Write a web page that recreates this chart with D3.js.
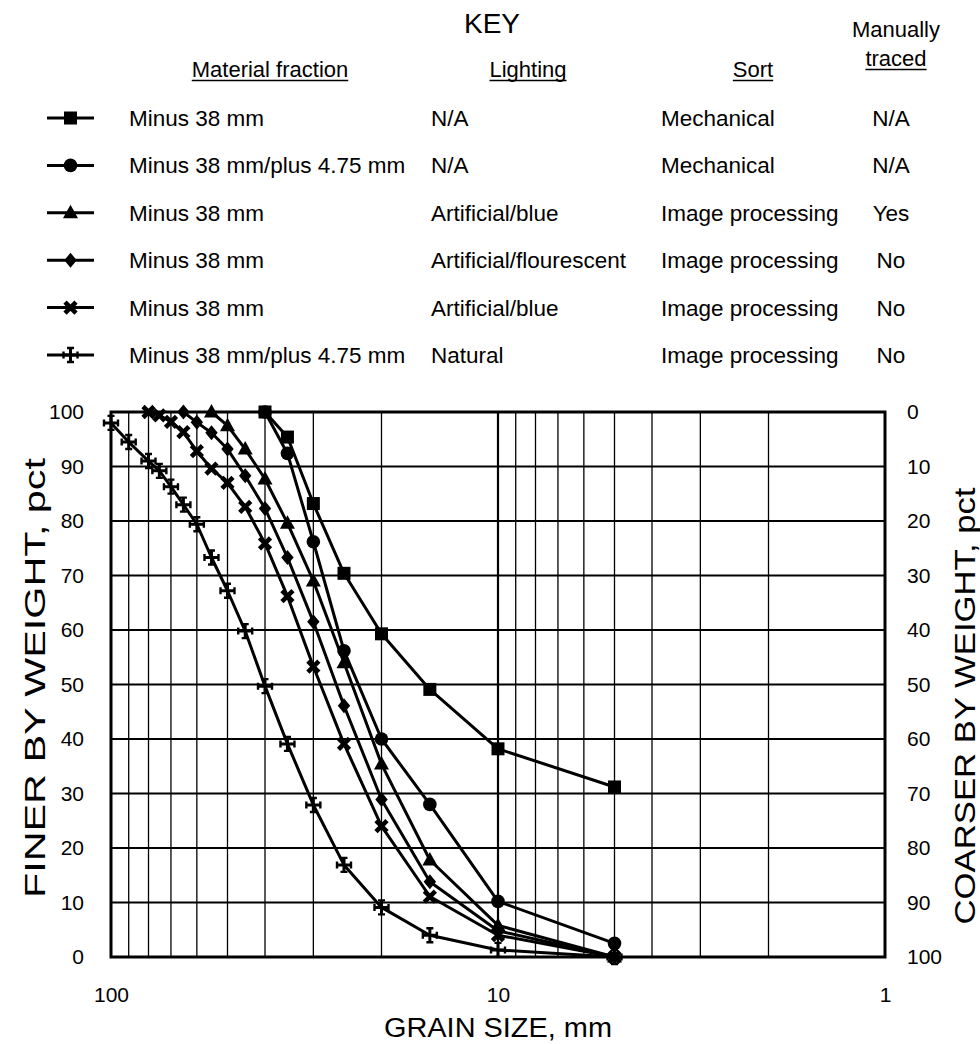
<!DOCTYPE html>
<html>
<head>
<meta charset="utf-8">
<script src="https://cdn.jsdelivr.net/npm/d3@7"></script>
<style>
html,body{margin:0;padding:0;background:#fff;}
svg{display:block;}
text{font-family:"Liberation Sans",Arial,Helvetica,sans-serif;fill:#000;}
</style>
</head>
<body>
<svg id="chart" width="980" height="1044"></svg>
<script>
// ---------- data ----------
const xTickLabels = [100, 10, 1];
const yTickValues = [0, 10, 20, 30, 40, 50, 60, 70, 80, 90, 100];
const gridSizes = [90, 80, 70, 60, 50, 40, 30, 20, 10, 9, 8, 7, 6, 5, 4, 3, 2];

const sizesSquare = [40, 35, 30, 25, 20, 15, 10, 5];
const valuesSquare = [100, 95.4, 83.2, 70.4, 59.3, 49.1, 38.2, 31.2];

const sizesCircle = [40, 35, 30, 25, 20, 15, 10, 5];
const valuesCircle = [100, 92.4, 76.2, 56.2, 40.0, 28.0, 10.2, 2.5];

const sizesTriangle = [55, 50, 45, 40, 35, 30, 25, 20, 15, 10, 5];
const valuesTriangle = [100, 97.5, 93.2, 87.7, 79.6, 69.0, 54.0, 35.4, 17.8, 5.8, 0];

const sizesDiamond = [65, 60, 55, 50, 45, 40, 35, 30, 25, 20, 15, 10, 5];
const valuesDiamond = [100, 98.1, 96.2, 93.2, 88.3, 82.3, 73.3, 61.5, 46.1, 28.9, 13.8, 4.8, 0];

const sizesCross = [80, 75, 70, 65, 60, 55, 50, 45, 40, 35, 30, 25, 20, 15, 10, 5];
const valuesCross = [100, 99.4, 98.2, 96.3, 92.8, 89.6, 87.0, 82.6, 75.9, 66.2, 53.3, 39.1, 24.0, 11.1, 4.0, 0];

const sizesStar = [100, 90, 80, 75, 70, 65, 60, 55, 50, 45, 40, 35, 30, 25, 20, 15, 10, 5];
const valuesStar = [98, 94.5, 91, 89.2, 86.3, 83, 79.4, 73.3, 67.2, 59.8, 49.7, 39.1, 27.9, 16.9, 9.1, 4.0, 1.3, 0];

const markerTypes = ["square", "circle", "triangle", "diamond", "cross", "star"];
const keyFraction = ["Minus 38 mm", "Minus 38 mm/plus 4.75 mm", "Minus 38 mm", "Minus 38 mm", "Minus 38 mm", "Minus 38 mm/plus 4.75 mm"];
const keyLighting = ["N/A", "N/A", "Artificial/blue", "Artificial/flourescent", "Artificial/blue", "Natural"];
const keySort = ["Mechanical", "Mechanical", "Image processing", "Image processing", "Image processing", "Image processing"];
const keyManual = ["N/A", "N/A", "Yes", "No", "No", "No"];
const keyHeaders = ["Material fraction", "Lighting", "Sort"];

const series = [
  {type: "star", sizes: sizesStar, values: valuesStar},
  {type: "cross", sizes: sizesCross, values: valuesCross},
  {type: "diamond", sizes: sizesDiamond, values: valuesDiamond},
  {type: "triangle", sizes: sizesTriangle, values: valuesTriangle},
  {type: "circle", sizes: sizesCircle, values: valuesCircle},
  {type: "square", sizes: sizesSquare, values: valuesSquare}
];

// ---------- layout ----------
const svg = d3.select("#chart");
const L = 111, R = 885, T = 412, B = 957;
const x = d3.scaleLog().domain([100, 1]).range([L, R]);
const y = d3.scaleLinear().domain([0, 100]).range([B, T]);

function drawMarker(g, type, cx, cy) {
  const m = g.append("g").attr("transform", `translate(${cx},${cy})`);
  if (type === "square") {
    m.append("path").attr("d", "M-6.5,-6.5h13v13h-13z").attr("fill", "#000");
  } else if (type === "circle") {
    m.append("circle").attr("r", 6.8).attr("fill", "#000");
  } else if (type === "triangle") {
    m.append("path").attr("d", "M0,-8L7.5,5.5L-7.5,5.5Z").attr("fill", "#000");
  } else if (type === "diamond") {
    m.append("path").attr("d", "M0,-7.5L6.2,0L0,7.5L-6.2,0Z").attr("fill", "#000");
  } else if (type === "cross") {
    m.append("path").attr("d", "M-5.5,-5.5L5.5,5.5M-5.5,5.5L5.5,-5.5")
      .attr("stroke", "#000").attr("stroke-width", 4.6).attr("fill", "none");
  } else if (type === "star") {
    m.append("path").attr("d", "M0,-7V7M-7,0H7")
      .attr("stroke", "#000").attr("stroke-width", 3).attr("fill", "none");
    m.append("path").attr("d", "M-3.5,-7H3.5M-3.5,7H3.5M-7,-3.5V3.5M7,-3.5V3.5")
      .attr("stroke", "#000").attr("stroke-width", 2.4).attr("fill", "none");
  }
}

// ---------- grid ----------
const grid = svg.append("g");
grid.selectAll("line.v").data(gridSizes).enter().append("line")
  .attr("x1", d => x(d)).attr("x2", d => x(d))
  .attr("y1", T).attr("y2", B)
  .attr("stroke", "#000").attr("stroke-width", d => d === 10 ? 2.2 : 1.3);
grid.selectAll("line.h").data(yTickValues.slice(1, -1)).enter().append("line")
  .attr("x1", L).attr("x2", R)
  .attr("y1", d => y(d)).attr("y2", d => y(d))
  .attr("stroke", "#000").attr("stroke-width", 2);
grid.append("rect").attr("x", L).attr("y", T).attr("width", R - L).attr("height", B - T)
  .attr("fill", "none").attr("stroke", "#000").attr("stroke-width", 3);

// ---------- axes ----------
const fmt = d3.format("d");
const axB = svg.append("g").attr("transform", `translate(0,${B})`)
  .call(d3.axisBottom(x).tickValues(xTickLabels).tickFormat(fmt).tickSize(0).tickPadding(30));
const axL = svg.append("g").attr("transform", `translate(${L},0)`)
  .call(d3.axisLeft(y).tickValues(yTickValues).tickFormat(fmt).tickSize(0).tickPadding(27));
const axR = svg.append("g").attr("transform", `translate(${R},0)`)
  .call(d3.axisRight(y).tickValues(yTickValues).tickFormat(d => fmt(100 - d)).tickSize(0).tickPadding(22));
[axB, axL, axR].forEach(a => {
  a.select(".domain").remove();
  a.selectAll("text").style("font-size", "21px").style("font-family", "\"Liberation Sans\",Arial,sans-serif").attr("fill", "#000");
});

// axis titles
svg.append("text").attr("x", (L + R) / 2).attr("y", 1037).attr("text-anchor", "middle")
  .style("font-size", "27px").attr("textLength", 228).attr("lengthAdjust", "spacingAndGlyphs")
  .text("GRAIN SIZE, mm");
svg.append("text").attr("transform", "translate(45,678) rotate(-90)").attr("text-anchor", "middle")
  .style("font-size", "29px").attr("textLength", 440).attr("lengthAdjust", "spacingAndGlyphs")
  .text("FINER BY WEIGHT, pct");
svg.append("text").attr("transform", "translate(975,706) rotate(-90)").attr("text-anchor", "middle")
  .style("font-size", "29px").attr("textLength", 437).attr("lengthAdjust", "spacingAndGlyphs")
  .text("COARSER BY WEIGHT, pct");

// ---------- series ----------
const line = d3.line().x(d => x(d[0])).y(d => y(d[1]));
series.forEach(s => {
  const pts = s.sizes.map((v, i) => [v, s.values[i]]);
  svg.append("path").attr("d", line(pts)).attr("fill", "none")
    .attr("stroke", "#000").attr("stroke-width", 3).attr("stroke-linejoin", "round");
});
series.forEach(s => {
  const g = svg.append("g");
  s.sizes.forEach((v, i) => drawMarker(g, s.type, x(v), y(s.values[i])));
});

// ---------- key ----------
const key = svg.append("g");
key.append("text").attr("x", 492).attr("y", 33).attr("text-anchor", "middle")
  .style("font-size", "28px").text("KEY");
function underlined(txt, cx, by, size) {
  const t = key.append("text").attr("x", cx).attr("y", by).attr("text-anchor", "middle")
    .style("font-size", size + "px").text(txt);
  const w = t.node().getComputedTextLength();
  key.append("line").attr("x1", cx - w / 2).attr("x2", cx + w / 2)
    .attr("y1", by + 3.5).attr("y2", by + 3.5).attr("stroke", "#000").attr("stroke-width", 1.4);
}
key.append("text").attr("x", 896).attr("y", 37).attr("text-anchor", "middle")
  .style("font-size", "22px").text("Manually");
underlined("traced", 896, 66, 22);
const headerX = [270, 528, 753];
keyHeaders.forEach((h, i) => underlined(h, headerX[i], 77, 22));

const rowY = i => 118 + i * 47.4;
markerTypes.forEach((t, i) => {
  const cy = rowY(i);
  key.append("line").attr("x1", 47).attr("x2", 94).attr("y1", cy).attr("y2", cy)
    .attr("stroke", "#000").attr("stroke-width", 3);
  drawMarker(key, t, 70.5, cy);
  key.append("text").attr("x", 129).attr("y", cy + 8).style("font-size", "22.5px").text(keyFraction[i]);
  key.append("text").attr("x", 431).attr("y", cy + 8).style("font-size", "22.5px").text(keyLighting[i]);
  key.append("text").attr("x", 661).attr("y", cy + 8).style("font-size", "22.5px").text(keySort[i]);
  key.append("text").attr("x", 891).attr("y", cy + 8).attr("text-anchor", "middle").style("font-size", "22.5px").text(keyManual[i]);
});
</script>
</body>
</html>
